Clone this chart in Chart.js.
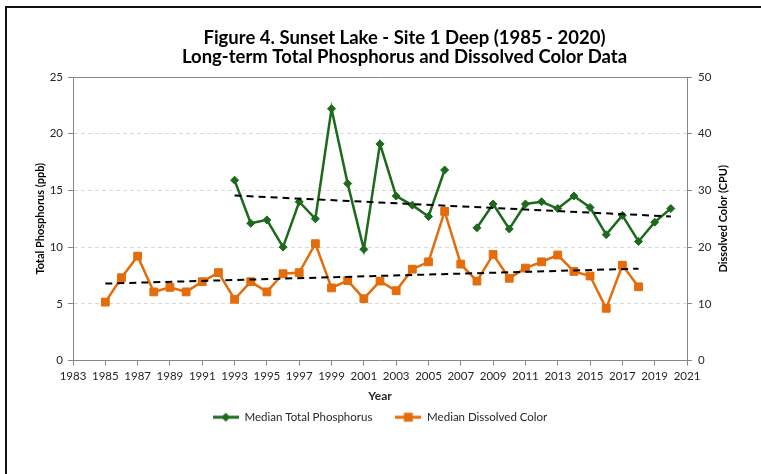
<!DOCTYPE html>
<html>
<head>
<meta charset="utf-8">
<script src="https://cdn.jsdelivr.net/npm/chart.js@4.4.1/dist/chart.umd.min.js"></script>
<style>
  html, body { margin: 0; padding: 0; background: #fff; overflow: hidden; }
  #frame { position: absolute; left: 5px; top: 6px; width: 900px; height: 600px;
           border-left: 2px solid #111; border-top: 2px solid #111; }
  #wrap { position: absolute; left: 0; top: 0; width: 761px; height: 474px; }
</style>
</head>
<body>
<div id="frame"></div>
<div id="wrap"><canvas id="chart"></canvas></div>
<script>
// Sunset Lake - Site 1 Deep: median TP (ppb, left axis) and dissolved color (CPU, right axis)
const tpYears = [1993, 1994, 1995, 1996, 1997, 1998, 1999, 2000, 2001, 2002, 2003, 2004, 2005, 2006,
                 2007, 2008, 2009, 2010, 2011, 2012, 2013, 2014, 2015, 2016, 2017, 2018, 2019, 2020];
const tpValues = [15.9, 12.1, 12.4, 10.0, 14.0, 12.5, 22.2, 15.6, 9.8, 19.1, 14.5, 13.7, 12.7, 16.8,
                  null, 11.7, 13.8, 11.6, 13.8, 14.0, 13.4, 14.5, 13.5, 11.1, 12.8, 10.5, 12.2, 13.4];

const colorYears = [1985, 1986, 1987, 1988, 1989, 1990, 1991, 1992, 1993, 1994, 1995, 1996,
                    1997, 1998, 1999, 2000, 2001, 2002, 2003, 2004, 2005, 2006, 2007, 2008,
                    2009, 2010, 2011, 2012, 2013, 2014, 2015, 2016, 2017, 2018];
const colorValues = [10.3, 14.6, 18.4, 12.1, 12.9, 12.1, 13.9, 15.5, 10.8, 13.9, 12.1, 15.3,
                     15.5, 20.6, 12.8, 14.1, 10.9, 14.0, 12.3, 16.1, 17.4, 26.3, 17.0, 14.0,
                     18.7, 14.5, 16.3, 17.4, 18.6, 15.7, 14.9, 9.2, 16.8, 13.0];

// linear trendline end points as drawn
const tpTrendYears = [1993, 2020];
const tpTrendValues = [14.55, 12.7];
const colorTrendYears = [1985, 2018];
const colorTrendValues = [13.56, 16.2];

const titleLines = ['Figure 4. Sunset Lake - Site 1 Deep (1985 - 2020)',
                    'Long-term Total Phosphorus and Dissolved Color Data'];
const rightAxisTitle = 'Dissolved Color (CPU)';

const GREEN = '#1D6A1D';
const ORANGE = '#E46C0A';
const AXIS = '#868686';
const TEXT = '#262626';
const FONT = 'Lato, "Open Sans", sans-serif';

const points = (xs, ys) => xs.map((x, i) => ({ x: x, y: ys[i] }));

function legendIcon(color, shape) {
    const c = document.createElement('canvas');
    c.width = 26; c.height = 12;
    const g = c.getContext('2d');
    g.strokeStyle = color; g.lineWidth = 3;
    g.beginPath(); g.moveTo(0, 6); g.lineTo(26, 6); g.stroke();
    g.fillStyle = color;
    g.beginPath();
    if (shape === 'diamond') {
        g.moveTo(13, 1.5); g.lineTo(17.5, 6); g.lineTo(13, 10.5); g.lineTo(8.5, 6);
    } else {
        g.rect(8.5, 1.5, 9, 9);
    }
    g.fill();
    return c;
}
const icons = { tp: legendIcon(GREEN, 'diamond'), color: legendIcon(ORANGE, 'square') };

// Chart.js turns a right-hand axis title clockwise; the original reads bottom-to-top.
const rightTitlePlugin = {
    id: 'rightTitle',
    afterDraw(chart) {
        const s = chart.scales.y2;
        const ctx = chart.ctx;
        ctx.save();
        ctx.translate(s.right - 38, (s.top + s.bottom) / 2);
        ctx.rotate(-Math.PI / 2);
        ctx.font = 'bold 11px ' + FONT;
        ctx.fillStyle = '#000';
        ctx.textAlign = 'center';
        ctx.textBaseline = 'middle';
        ctx.fillText(rightAxisTitle, 0, 0);
        ctx.restore();
    },
};

new Chart(document.getElementById('chart'), {
    type: 'line',
    plugins: [rightTitlePlugin],
    data: {
        datasets: [
            { label: 'tpTrend', data: points(tpTrendYears, tpTrendValues), yAxisID: 'y',
              borderColor: '#000', borderWidth: 2, borderDash: [7, 5], pointRadius: 0 },
            { label: 'colorTrend', data: points(colorTrendYears, colorTrendValues), yAxisID: 'y2',
              borderColor: '#000', borderWidth: 2, borderDash: [7, 5], pointRadius: 0 },
            { label: 'Median Total Phosphorus', key: 'tp', data: points(tpYears, tpValues), yAxisID: 'y',
              borderColor: GREEN, backgroundColor: GREEN, borderWidth: 2.5,
              pointStyle: 'rectRot', pointRadius: 4, pointBorderWidth: 1, spanGaps: false },
            { label: 'Median Dissolved Color', key: 'color', data: points(colorYears, colorValues), yAxisID: 'y2',
              borderColor: ORANGE, backgroundColor: ORANGE, borderWidth: 2.5,
              pointStyle: 'rect', pointRadius: 5.5, pointBorderWidth: 1 },
        ],
    },
    options: {
        responsive: true,
        maintainAspectRatio: false,
        animation: false,
        devicePixelRatio: 1,
        layout: { padding: { left: 48, right: 0, top: 0, bottom: 41 } },
        plugins: {
            tooltip: { enabled: false },
            title: {
                display: true,
                text: titleLines,
                color: '#000',
                font: { family: FONT, size: 18.5, weight: 'bold', lineHeight: 19 / 18.5 },
                padding: { top: 28.5, bottom: 10.5 },
            },
            legend: {
                position: 'bottom',
                fullSize: false,
                labels: {
                    color: TEXT,
                    font: { family: FONT, size: 11.5 },
                    usePointStyle: true,
                    pointStyleWidth: 26,
                    padding: 23,
                    generateLabels: (chart) => {
                        const base = Chart.defaults.plugins.legend.labels.generateLabels(chart);
                        return base.filter((l) => chart.data.datasets[l.datasetIndex].key)
                            .map((l) => Object.assign(l, { pointStyle: icons[chart.data.datasets[l.datasetIndex].key] }));
                    },
                },
            },
        },
        scales: {
            x: {
                type: 'linear',
                min: 1983, max: 2021,
                afterFit: (s) => { s.height = 28; },
                ticks: { stepSize: 2, color: TEXT, font: { family: FONT, size: 11.5 }, padding: 4,
                         maxRotation: 0, autoSkip: false, callback: (v) => String(v) },
                grid: { drawOnChartArea: false, drawTicks: true, tickLength: 5, tickColor: AXIS },
                border: { color: AXIS, width: 1 },
                title: { display: true, text: 'Year', color: TEXT,
                         font: { family: FONT, size: 12, weight: 'bold' }, padding: { top: 0, bottom: -15 } },
            },
            xTop: {
                type: 'linear', position: 'top', min: 1983, max: 2021,
                afterFit: (s) => { s.height = 0; },
                ticks: { display: false },
                grid: { drawOnChartArea: false, drawTicks: false },
                border: { color: AXIS, width: 1 },
            },
            y: {
                position: 'left',
                min: 0, max: 25,
                afterFit: (s) => { s.width = 25; },
                ticks: { stepSize: 5, color: TEXT, font: { family: FONT, size: 11.5 }, padding: 5 },
                grid: {
                    color: (c) => (c.tick && (c.tick.value === 0 || c.tick.value === 25)) ? 'rgba(0,0,0,0)' : '#D9D9D9',
                    tickColor: AXIS, tickLength: 5, lineWidth: 1,
                },
                border: { color: AXIS, width: 1, dash: [4, 3] },
                title: { display: true, text: 'Total Phosphorus (ppb)', color: '#000',
                         font: { family: FONT, size: 11, weight: 'bold' }, padding: { top: -14.6, bottom: 0 } },
            },
            y2: {
                position: 'right',
                min: 0, max: 50,
                afterFit: (s) => { s.width = 74; },
                ticks: { stepSize: 10, color: TEXT, font: { family: FONT, size: 11.5 }, padding: 6 },
                grid: { drawOnChartArea: false, tickColor: AXIS, tickLength: 5 },
                border: { color: AXIS, width: 1 },
                title: { display: false, text: rightAxisTitle },
            },
        },
    },
});
</script>
</body>
</html>
